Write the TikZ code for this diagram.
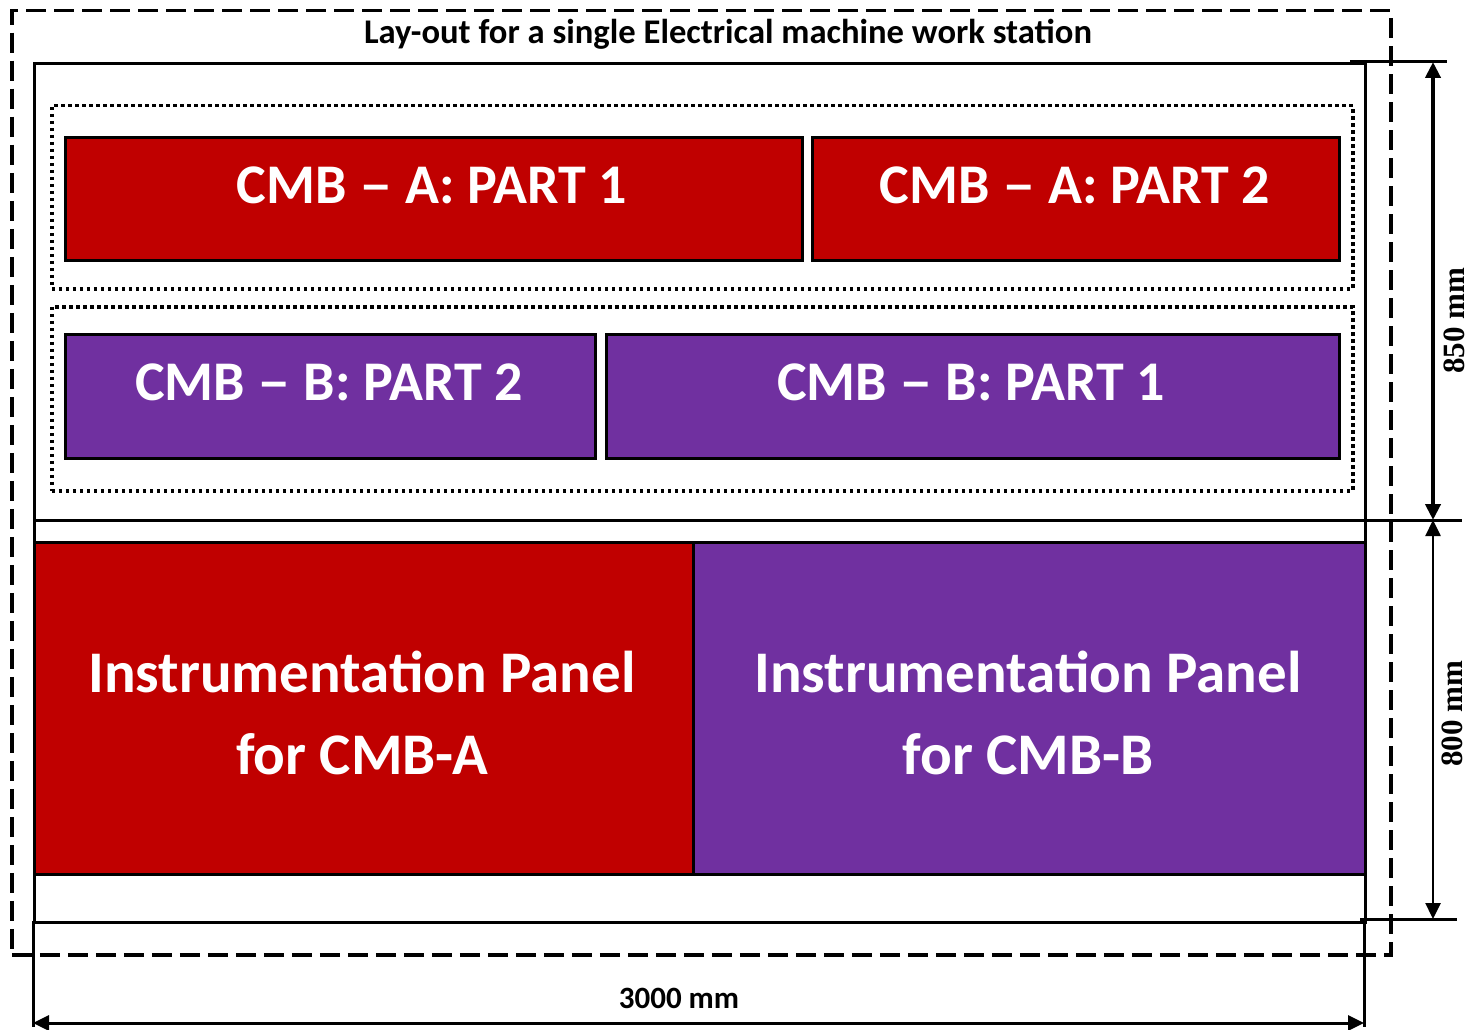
\documentclass[tikz,border=0pt]{standalone}
\usepackage{fontspec}
\setmainfont{Carlito}
\newfontfamily\dimfont{Liberation Serif}
\usetikzlibrary{arrows.meta}
\definecolor{cred}{HTML}{C00000}
\definecolor{cpurple}{HTML}{7030A0}
\newcommand{\wdash}{\scalebox{1.2}[1]{–}}
\begin{document}
\begin{tikzpicture}[x=1pt,y=-1pt,
  box/.style={draw=black,line width=3pt,inner sep=0pt,anchor=north west},
  redbox/.style={box,fill=cred},
  purplebox/.style={box,fill=cpurple},
  bigtext/.style={text=white,font=\bfseries\fontsize{56}{82}\selectfont,anchor=base,inner sep=0pt},
  paneltext/.style={text=white,font=\bfseries\fontsize{59}{82}\selectfont,align=center,inner sep=0pt},
  dotbox/.style={draw=black,line width=3.5pt,dash pattern=on 3.5pt off 3.5pt,anchor=north west,inner sep=0pt},
  solidline/.style={line width=3pt},
  dimarrow/.style={{Triangle[length=16pt,width=15pt]}-{Triangle[length=16pt,width=15pt]}},
  dimtext/.style={font=\dimfont\bfseries\fontsize{31}{31}\selectfont,inner sep=0pt}
]
\useasboundingbox (0,0) rectangle (1472,1030);
% outer dashed frame
\node[draw=black,line width=3.5pt,dash pattern=on 20pt off 8pt,anchor=north west,inner sep=0pt,
  minimum width=1379pt,minimum height=944pt] (frame) at (10,9) {};
\node[font=\bfseries\fontsize{34.6}{36}\selectfont,anchor=base,inner sep=0pt] (title) at (728,44) {Lay-out for a single Electrical machine work station};
% main table rectangle
\node[box,fill=none,minimum width=1331pt,minimum height=859pt] (table) at (33,62) {};
\coordinate (divL) at (33,520);
\coordinate (divR) at (1462,520);
\draw[solidline] (divL) -- (divR);
% dotted groups
\node[dotbox,minimum width=1301pt,minimum height=183pt] (grpA) at (50,104) {};
\node[dotbox,minimum width=1301pt,minimum height=184pt] (grpB) at (50,305) {};
% CMB boxes
\node[redbox,minimum width=737pt,minimum height=123pt] (a1) at (64,136) {};
\node[redbox,minimum width=527pt,minimum height=123pt] (a2) at (811,136) {};
\node[purplebox,minimum width=530pt,minimum height=124pt] (b2) at (64,333) {};
\node[purplebox,minimum width=733pt,minimum height=124pt] (b1) at (605,333) {};
\node[bigtext] (a1t) at (432,203) {CMB \wdash{} A: PART 1};
\node[bigtext] (a2t) at (1075,203) {CMB \wdash{} A: PART 2};
\node[bigtext] (b2t) at (329,400) {CMB \wdash{} B: PART 2};
\node[bigtext] (b1t) at (971,400) {CMB \wdash{} B: PART 1};
% instrumentation panels
\node[redbox,minimum width=659pt,minimum height=332pt] (pa) at (33,541) {};
\node[purplebox,minimum width=672pt,minimum height=332pt] (pb) at (692,541) {};
\node[paneltext] (pat) at (362,713) {Instrumentation Panel\\for CMB-A};
\node[paneltext] (pbt) at (1028,713) {Instrumentation Panel\\for CMB-B};
% extension lines
\coordinate (topExtL) at (1350,62);
\coordinate (topExtR) at (1447,62);
\coordinate (botExtL) at (1360,919);
\coordinate (botExtR) at (1457,919);
\draw[solidline] (topExtL) -- (topExtR);
\draw[solidline] (botExtL) -- (botExtR);
\coordinate (leftExtT) at (33,921);
\coordinate (leftExtB) at (33,1027);
\coordinate (rightExtT) at (1364,921);
\coordinate (rightExtB) at (1364,1027);
\draw[solidline] (leftExtT) -- (leftExtB);
\draw[solidline] (rightExtT) -- (rightExtB);
% dimension arrows
\coordinate (v1) at (1433,62);
\coordinate (v2) at (1433,520);
\coordinate (v3) at (1433,919);
\coordinate (h1) at (33,1023);
\coordinate (h2) at (1364,1023);
\draw[dimarrow,line width=4pt] (v1) -- (v2);
\draw[dimarrow,line width=2.5pt] (v2) -- (v3);
\draw[dimarrow,line width=3pt] (h1) -- (h2);
\node[dimtext,rotate=90] (d850) at (1454,321) {850 mm};
\node[dimtext,rotate=90] (d800) at (1452,714) {800 mm};
\node[font=\bfseries\fontsize{31}{32}\selectfont,anchor=base,inner sep=0pt] (d3000) at (679,1008) {3000 mm};
\end{tikzpicture}
\end{document}
